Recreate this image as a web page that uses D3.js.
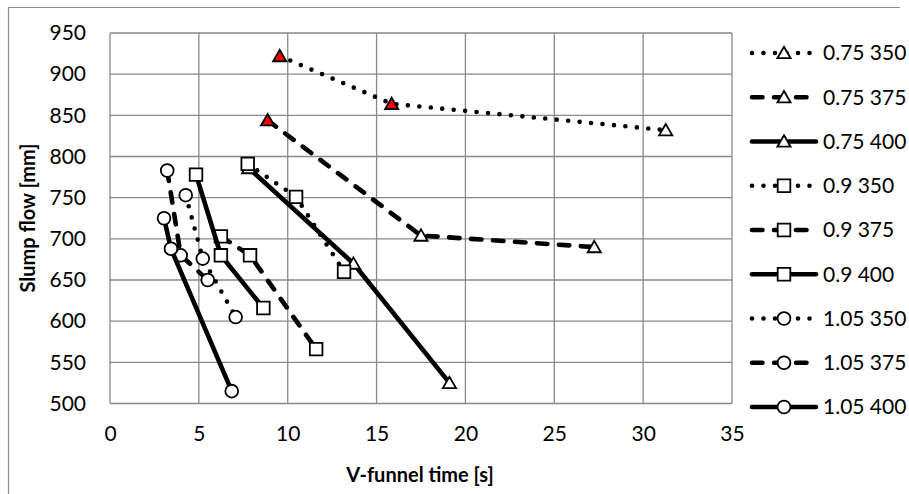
<!DOCTYPE html>
<html>
<head>
<meta charset="utf-8">
<script src="https://cdn.jsdelivr.net/npm/d3@7"></script>
<style>
  body { margin: 0; background: #fff; }
  svg { display: block; font-family: Lato, "Open Sans", sans-serif; }
</style>
</head>
<body>
<div id="chart"></div>
<script>
// series labels (w/b ratio + binder content)
var seriesNames = ["0.75 350", "0.75 375", "0.75 400",
                   "0.9 350", "0.9 375", "0.9 400",
                   "1.05 350", "1.05 375", "1.05 400"];

// V-funnel time [s] per series
var vFunnel = [
  [9.55, 15.85, 31.27],
  [8.87, 17.5, 27.25],
  [7.8, 13.7, 19.1],
  [7.75, 10.47, 13.17],
  [6.24, 7.88, 11.6],
  [4.84, 6.24, 8.63],
  [4.26, 5.22, 7.07],
  [3.22, 3.98, 5.5],
  [3.04, 3.43, 6.85]
];

// slump flow [mm] per series
var slumpFlow = [
  [922, 864, 832],
  [844, 704, 690],
  [786, 670, 525],
  [791, 751, 660],
  [703, 680, 566],
  [778, 680, 616],
  [753, 676, 605],
  [783, 680, 650],
  [725, 688, 515]
];

// points drawn with a red marker
var redPoint = [
  [true, true, false],
  [true, false, false],
  [false, false, false],
  [false, false, false],
  [false, false, false],
  [false, false, false],
  [false, false, false],
  [false, false, false],
  [false, false, false]
];

var xTicks = [0, 5, 10, 15, 20, 25, 30, 35];
var yTicks = [500, 550, 600, 650, 700, 750, 800, 850, 900, 950];

var W = 909, H = 494;
var plot = {left: 110, right: 732, top: 33, bottom: 403.5};

var svg = d3.select("#chart").append("svg")
  .attr("width", W).attr("height", H);

// outer chart border (cropped on right/bottom)
svg.append("path")
  .attr("d", "M8.5," + (H + 2) + "V7.5H900")
  .attr("fill", "none").attr("stroke", "#8c8c8c").attr("stroke-width", 1.2);

var x = d3.scaleLinear().domain([0, 35]).range([plot.left, plot.right]);
var y = d3.scaleLinear().domain([500, 950]).range([plot.bottom, plot.top]);

var grid = "#898989";

// gridlines
svg.append("g").selectAll("line").data(yTicks).enter().append("line")
  .attr("x1", plot.left).attr("x2", plot.right)
  .attr("y1", function(d){ return y(d); }).attr("y2", function(d){ return y(d); })
  .attr("stroke", grid).attr("stroke-width", 1.3);
svg.append("g").selectAll("line").data(xTicks).enter().append("line")
  .attr("y1", plot.top).attr("y2", plot.bottom)
  .attr("x1", function(d){ return x(d); }).attr("x2", function(d){ return x(d); })
  .attr("stroke", grid).attr("stroke-width", 1.3);

// axes (labels only)
var yAxis = svg.append("g")
  .attr("transform", "translate(" + plot.left + ",0)")
  .call(d3.axisLeft(y).tickValues(yTicks).tickSize(0).tickPadding(24));
var xAxis = svg.append("g")
  .attr("transform", "translate(0," + plot.bottom + ")")
  .call(d3.axisBottom(x).tickValues(xTicks).tickSize(0).tickPadding(23));
[yAxis, xAxis].forEach(function(a){
  a.select(".domain").remove();
  a.selectAll("text").attr("font-size", 21).attr("fill", "#000")
    .style("font-family", "Lato, sans-serif");
});
xAxis.selectAll("text").attr("dy", "0.71em");

// axis titles
svg.append("text")
  .attr("x", 420).attr("y", 482)
  .attr("text-anchor", "middle")
  .attr("font-size", 20).attr("font-weight", "bold")
  .text("V-funnel time [s]");
svg.append("text")
  .attr("transform", "translate(35,218) rotate(-90)")
  .attr("text-anchor", "middle")
  .attr("font-size", 20).attr("font-weight", "bold")
  .text("Slump flow [mm]");

// line and marker styles
var lineStyles = [
  {dash: "0,11.5"},
  {dash: "10.5,11.5"},
  {dash: null}
];
function markerPath(kind) {
  if (kind === 0) return "M0,-6.2L6.6,5.2L-6.6,5.2Z";
  if (kind === 1) return "M-6.3,-6.3H6.3V6.3H-6.3Z";
  return d3.symbol().type(d3.symbolCircle).size(Math.PI * 6.4 * 6.4)();
}

var line = d3.line().x(function(d){ return x(d[0]); }).y(function(d){ return y(d[1]); });

seriesNames.forEach(function(name, i) {
  var pts = vFunnel[i].map(function(v, j){ return [v, slumpFlow[i][j], redPoint[i][j]]; });
  var st = lineStyles[i % 3];
  var mk = Math.floor(i / 3);
  var g = svg.append("g");
  g.append("path")
    .attr("d", line(pts))
    .attr("fill", "none").attr("stroke", "#000")
    .attr("stroke-width", 4.6)
    .attr("stroke-linecap", "round").attr("stroke-linejoin", "round")
    .attr("stroke-dasharray", st.dash);
  g.selectAll(".m").data(pts).enter().append("path")
    .attr("class", "m")
    .attr("transform", function(d){ return "translate(" + x(d[0]) + "," + y(d[1]) + ")"; })
    .attr("d", markerPath(mk))
    .attr("fill", function(d){ return d[2] ? "#ff0000" : "#fff"; })
    .attr("stroke", "#000").attr("stroke-width", 1.8);

  // legend entry
  var ly = 53 + i * 44.25;
  var lg = svg.append("g").attr("transform", "translate(0," + ly + ")");
  lg.append("line")
    .attr("x1", 752).attr("x2", 816).attr("y1", 0).attr("y2", 0)
    .attr("stroke", "#000").attr("stroke-width", 4.6)
    .attr("stroke-linecap", "round")
    .attr("stroke-dasharray", st.dash);
  lg.append("path")
    .attr("transform", "translate(784,0)")
    .attr("d", markerPath(mk))
    .attr("fill", "#fff").attr("stroke", "#000").attr("stroke-width", 1.8);
  lg.append("text")
    .attr("x", 823).attr("y", 0).attr("dy", "0.35em")
    .attr("font-size", 21)
    .text(name);
});
</script>
</body>
</html>
